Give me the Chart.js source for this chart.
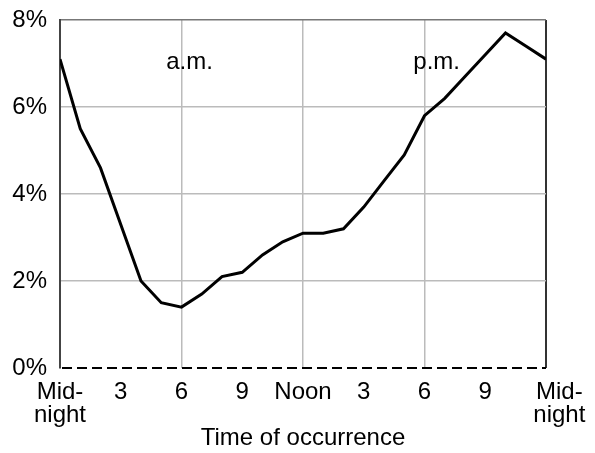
<!DOCTYPE html>
<html>
<head>
<meta charset="utf-8">
<script src="https://cdn.jsdelivr.net/npm/chart.js@4.4.0/dist/chart.umd.min.js"></script>
<style>
    html, body { margin: 0; padding: 0; background: #fff; }
    #wrap { width: 595px; height: 453px; }
</style>
</head>
<body>
<div id="wrap"><canvas id="timeChart" width="595" height="453"></canvas></div>
<script>
// hour of day (0 = midnight) and share of incidents in %
var hours = [0, 1, 2, 3, 4, 5, 6, 7, 8, 9, 10, 11, 12, 13, 14, 15, 16, 17, 18, 19, 20, 21, 22, 23, 24];
var share = [7.1, 5.5, 4.6, 3.3, 2.0, 1.5, 1.4, 1.7, 2.1, 2.2, 2.6, 2.9, 3.1, 3.1, 3.2, 3.7, 4.3, 4.9, 5.8, 6.2, 6.7, 7.2, 7.7, 7.4, 7.1];

var hourTicks = [0, 3, 6, 9, 12, 15, 18, 21, 24];
var hourLabels = [['Mid-', 'night'], '3', '6', '9', 'Noon', '3', '6', '9', ['    Mid-', '    night']];
var yTicks = [0, 2, 4, 6, 8];

var periodLabels = ['a.m.', 'p.m.'];
var periodHours = [6.4, 18.6];
var periodLevel = 7.03;

var fontFamily = '"Liberation Sans", Arial, sans-serif';
var fontSize = 24;

var points = hours.map(function(h, i) { return { x: h, y: share[i] }; });

// a.m. / p.m. text and the dashed baseline at 0%
var periodPlugin = {
    id: 'periodText',
    afterDatasetsDraw: function(chart) {
        var ctx = chart.ctx;
        var xs = chart.scales.x, ys = chart.scales.y;
        ctx.save();
        // dashed zero line
        var y0 = ys.getPixelForValue(0);
        ctx.strokeStyle = '#000';
        ctx.lineWidth = 2;
        ctx.setLineDash([10, 5]);
        ctx.beginPath();
        ctx.moveTo(xs.getPixelForValue(0) + 2, y0);
        ctx.lineTo(xs.getPixelForValue(24), y0);
        ctx.stroke();
        ctx.setLineDash([]);

        ctx.font = fontSize + 'px ' + fontFamily;
        ctx.fillStyle = '#000';
        ctx.textAlign = 'center';
        ctx.textBaseline = 'middle';
        periodLabels.forEach(function(t, i) {
            ctx.fillText(t, xs.getPixelForValue(periodHours[i]), ys.getPixelForValue(periodLevel));
        });
        ctx.restore();
    }
};

var ctx = document.getElementById('timeChart').getContext('2d');

new Chart(ctx, {
    type: 'line',
    data: {
        datasets: [{
            data: points,
            borderColor: '#000',
            borderWidth: 3,
            pointRadius: 0,
            tension: 0,
            fill: false
        }]
    },
    options: {
        responsive: false,
        animation: false,
        devicePixelRatio: 1,
        layout: { padding: { top: 20, right: 49, left: 0, bottom: 0 } },
        plugins: {
            legend: { display: false },
            tooltip: { enabled: false }
        },
        scales: {
            x: {
                type: 'linear',
                min: 0,
                max: 24,
                afterBuildTicks: function(scale) {
                    scale.ticks = hourTicks.map(function(v) { return { value: v }; });
                },
                afterFit: function(scale) {
                    scale.height = 85;
                    scale.paddingLeft = 0;
                    scale.paddingRight = 0;
                },
                ticks: {
                    autoSkip: false,
                    maxRotation: 0,
                    padding: 13,
                    color: '#000',
                    font: { family: fontFamily, size: fontSize, lineHeight: 0.95 },
                    callback: function(v) { return hourLabels[hourTicks.indexOf(v)]; }
                },
                grid: {
                    drawTicks: false,
                    lineWidth: function(c) { return c.tick && c.tick.value === 24 ? 2 : 1.5; },
                    color: function(c) {
                        var v = c.tick ? c.tick.value : -1;
                        if (v === 24) return '#333';
                        if (v === 6 || v === 12 || v === 18) return '#bbb';
                        return 'rgba(0,0,0,0)';
                    }
                },
                border: { display: false },
                title: {
                    display: true,
                    text: 'Time of occurrence',
                    color: '#000',
                    font: { family: fontFamily, size: fontSize },
                    padding: { top: 0, bottom: 0 }
                }
            },
            y: {
                min: 0,
                max: 8,
                afterBuildTicks: function(scale) {
                    scale.ticks = yTicks.map(function(v) { return { value: v }; });
                },
                afterFit: function(scale) {
                    scale.width = 60;
                    scale.paddingTop = 0;
                    scale.paddingBottom = 0;
                },
                ticks: {
                    padding: 13,
                    color: '#000',
                    font: { family: fontFamily, size: fontSize },
                    callback: function(v) { return v + '%'; }
                },
                grid: {
                    drawTicks: false,
                    lineWidth: 1.5,
                    color: function(c) {
                        var v = c.tick ? c.tick.value : -1;
                        if (v === 8) return '#777';
                        if (v === 0) return 'rgba(0,0,0,0)';
                        return '#bbb';
                    }
                },
                border: { display: true, color: '#444', width: 2 }
            }
        }
    },
    plugins: [periodPlugin]
});
</script>
</body>
</html>
